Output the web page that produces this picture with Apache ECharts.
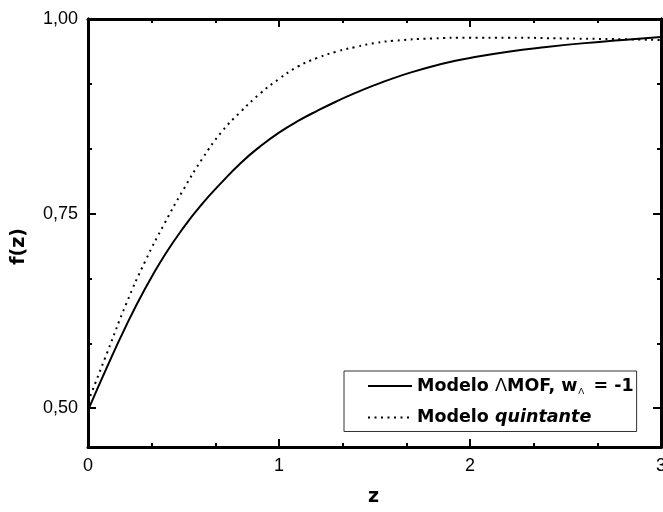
<!DOCTYPE html>
<html>
<head>
<meta charset="utf-8">
<script src="https://cdn.jsdelivr.net/npm/echarts@6/dist/echarts.min.js"></script>
<style>html,body{margin:0;padding:0;background:#fff}#c{width:663px;height:512px}</style>
</head>
<body>
<div id="c"></div>
<script>
// z values and f(z) for the two models
var zSolid = [0, 0.1, 0.2, 0.3, 0.4, 0.5, 0.6, 0.7, 0.8, 0.9, 1.0, 1.1, 1.2, 1.3, 1.4, 1.5, 1.6, 1.7, 1.8, 1.9, 2.0, 2.2, 2.4, 2.6, 2.8, 3.0];
var fSolid = [0.497, 0.553, 0.606, 0.654, 0.696, 0.732, 0.763, 0.790, 0.815, 0.836, 0.854, 0.869, 0.882, 0.894, 0.905, 0.915, 0.924, 0.932, 0.939, 0.945, 0.950, 0.958, 0.964, 0.969, 0.973, 0.977];
var zDot = [0, 0.1, 0.2, 0.3, 0.4, 0.5, 0.6, 0.7, 0.8, 0.9, 1.0, 1.1, 1.2, 1.3, 1.4, 1.5, 1.6, 1.8, 2.0, 2.2, 2.5, 2.8, 3.0];
var fDot = [0.508, 0.571, 0.634, 0.689, 0.737, 0.781, 0.821, 0.855, 0.881, 0.904, 0.923, 0.939, 0.950, 0.958, 0.964, 0.969, 0.972, 0.975, 0.976, 0.976, 0.975, 0.974, 0.973];
var xTicks = [0, 1, 2, 3];
var yMajor = [0.5, 0.75, 1.0];
var yMinor = [0.5833, 0.6667, 0.8333, 0.9167];
var seriesNames = ['Modelo \u039BMOF, w\u039B = -1', 'Modelo quintante'];

function pairs(xs, ys) { return xs.map(function (x, i) { return [x, ys[i]]; }); }

var font = 'Liberation Sans, Arial, sans-serif';
var bold = 'DejaVu Sans, Verdana, sans-serif';

function xAx(pos, showLabel) {
  return {
    type: 'value', position: pos, min: 0, max: 3, interval: 1,
    axisLine: { show: true, lineStyle: { color: '#000', width: 3 } },
    axisTick: { show: true, inside: true, length: 8, lineStyle: { color: '#000', width: 2 } },
    minorTick: { show: true, splitNumber: 3, length: 4, lineStyle: { color: '#000', width: 2 } },
    axisLabel: { show: showLabel, color: '#000', fontFamily: font, fontSize: 18, margin: 10, formatter: function (v) { return String(v); } },
    splitLine: { show: false }, minorSplitLine: { show: false }
  };
}
function yAx(pos, ticks, len, showLabel) {
  return {
    type: 'value', position: pos, min: 0.45, max: 1.0,
    axisLine: { show: true, onZero: false, lineStyle: { color: '#000', width: 3 } },
    axisTick: { show: true, inside: true, length: len, customValues: ticks, lineStyle: { color: '#000', width: 2 } },
    axisLabel: { show: showLabel, customValues: yMajor, color: '#000', fontFamily: font, fontSize: 18, margin: 10,
      formatter: function (v) { return v.toFixed(2).replace('.', ','); } },
    splitLine: { show: false }
  };
}

var chart = echarts.init(document.getElementById('c'));
chart.setOption({
  animation: false,
  backgroundColor: '#fff',
  grid: { left: 88, right: 2, top: 19, bottom: 65, containLabel: false, outerBoundsMode: 'none' },
  xAxis: [xAx('bottom', true), xAx('top', false)],
  yAxis: [
    yAx('left', yMajor, 8, true),
    yAx('left', yMinor, 4, false),
    yAx('right', yMajor, 8, false),
    yAx('right', yMinor, 4, false)
  ],
  legend: {
    orient: 'vertical', left: 344, top: 371,
    itemWidth: 44, itemHeight: 14, itemGap: 12,
    padding: [6, 3, 5, 23],
    borderColor: '#333', borderWidth: 1, backgroundColor: '#fff',
    itemStyle: { opacity: 0 },
    data: seriesNames,
    textStyle: {
      color: '#000', fontFamily: bold, fontSize: 17.5, fontWeight: 'bold',
      rich: {
        b: { fontFamily: bold, fontSize: 17.5, fontWeight: 'bold', color: '#000' },
        L: { fontFamily: font, fontSize: 18, fontWeight: 'normal', color: '#000' },
        s: { fontFamily: font, fontSize: 9, fontWeight: 'normal', color: '#000', verticalAlign: 'bottom', padding: [12, 3, 0, 1] },
        i: { fontFamily: bold, fontSize: 17.5, fontWeight: 'bold', fontStyle: 'italic', color: '#000' }
      }
    },
    formatter: function (name) {
      if (name === seriesNames[0]) return '{b|Modelo }{L|\u039B}{b|MOF, w}{s|\u039B}{b| = -1}';
      return '{b|Modelo }{i|quintante}';
    }
  },
  graphic: [
    { type: 'text', left: 10, top: 228, rotation: Math.PI / 2, style: { text: 'f(z)', fill: '#000', font: 'bold 19px DejaVu Sans, Verdana, sans-serif' } },
    { type: 'text', left: 368, top: 488, style: { text: 'z', fill: '#000', font: 'bold 19px DejaVu Sans, Verdana, sans-serif' } }
  ],
  series: [
    {
      name: seriesNames[0], type: 'line', smooth: true, symbol: 'none', xAxisIndex: 0, yAxisIndex: 0,
      data: pairs(zSolid, fSolid),
      lineStyle: { color: '#000', width: 2, type: 'solid' }, itemStyle: { color: '#000' }
    },
    {
      name: seriesNames[1], type: 'line', smooth: true, symbol: 'none', xAxisIndex: 0, yAxisIndex: 0,
      data: pairs(zDot, fDot),
      lineStyle: { color: '#000', width: 2, type: [2, 4.5] }, itemStyle: { color: '#000' }
    }
  ]
});
</script>
</body>
</html>
